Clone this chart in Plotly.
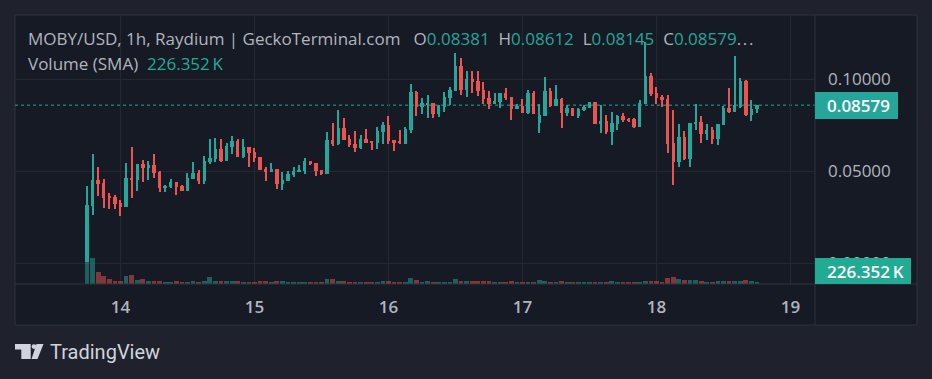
import plotly.graph_objects as go
import pandas as pd

# ---------------- data ----------------
times = pd.date_range("2024-05-13 18:00", periods=121, freq="h")

opens = [0.0005, 0.0310, 0.0451, 0.0435, 0.0359, 0.0357, 0.0324, 0.0306, 0.0462, 0.0451,
         0.0538, 0.0518, 0.0533, 0.0495, 0.0408, 0.0415, 0.0440, 0.0418, 0.0391, 0.0455,
         0.0489, 0.0446, 0.0549, 0.0565, 0.0620, 0.0554, 0.0630, 0.0663, 0.0576, 0.0630,
         0.0603, 0.0576, 0.0513, 0.0495, 0.0511, 0.0429, 0.0446, 0.0478, 0.0495, 0.0500,
         0.0554, 0.0543, 0.0505, 0.0484, 0.0668, 0.0647, 0.0734, 0.0674, 0.0647, 0.0625,
         0.0674, 0.0659, 0.0652, 0.0712, 0.0750, 0.0668, 0.0658, 0.0647, 0.0723, 0.0929,
         0.0848, 0.0864, 0.0870, 0.0811, 0.0850, 0.0898, 0.0935, 0.1071, 0.0940, 0.1000,
         0.0989, 0.0940, 0.0897, 0.0864, 0.0875, 0.0924, 0.0902, 0.0837, 0.0853, 0.0815,
         0.0924, 0.0761, 0.0799, 0.0935, 0.0853, 0.0891, 0.0815, 0.0842, 0.0799, 0.0832,
         0.0842, 0.0875, 0.0755, 0.0773, 0.0712, 0.0755, 0.0799, 0.0781, 0.0783, 0.0739,
         0.0864, 0.1016, 0.0924, 0.0902, 0.0891, 0.0652, 0.0549, 0.0685, 0.0565, 0.0755,
         0.0766, 0.0701, 0.0723, 0.0674, 0.0750, 0.0842, 0.0821, 0.0848, 0.0989, 0.0804,
         0.08381]
highs = [0.0418, 0.0592, 0.0522, 0.0455, 0.0379, 0.0370, 0.0342, 0.0543, 0.0630, 0.0538,
         0.0560, 0.0554, 0.0592, 0.0500, 0.0424, 0.0455, 0.0440, 0.0422, 0.0489, 0.0549,
         0.0505, 0.0582, 0.0674, 0.0679, 0.0674, 0.0652, 0.0690, 0.0674, 0.0674, 0.0630,
         0.0625, 0.0576, 0.0522, 0.0543, 0.0511, 0.0495, 0.0500, 0.0522, 0.0533, 0.0571,
         0.0554, 0.0543, 0.0505, 0.0712, 0.0761, 0.0832, 0.0788, 0.0696, 0.0717, 0.0696,
         0.0728, 0.0663, 0.0739, 0.0766, 0.0799, 0.0668, 0.0723, 0.0739, 0.0973, 0.0935,
         0.0897, 0.0913, 0.0871, 0.0859, 0.0929, 0.0958, 0.1140, 0.1114, 0.1043, 0.1043,
         0.1043, 0.0984, 0.0935, 0.0924, 0.0924, 0.0951, 0.0902, 0.0864, 0.0891, 0.0940,
         0.0935, 0.0864, 0.1011, 0.0951, 0.0967, 0.0897, 0.0859, 0.0842, 0.0842, 0.0859,
         0.0875, 0.0875, 0.0859, 0.0804, 0.0821, 0.0804, 0.0815, 0.0788, 0.0788, 0.0886,
         0.1201, 0.1033, 0.0957, 0.0913, 0.0913, 0.0832, 0.0755, 0.0717, 0.0761, 0.0864,
         0.0799, 0.0755, 0.0739, 0.0755, 0.0853, 0.0951, 0.1125, 0.1005, 0.0995, 0.0886,
         0.08612]
lows = [0.0005, 0.0261, 0.0364, 0.0299, 0.0295, 0.0295, 0.0257, 0.0306, 0.0355, 0.0393,
        0.0442, 0.0451, 0.0464, 0.0388, 0.0388, 0.0409, 0.0370, 0.0391, 0.0391, 0.0455,
        0.0431, 0.0431, 0.0538, 0.0549, 0.0549, 0.0554, 0.0592, 0.0576, 0.0571, 0.0522,
        0.0549, 0.0505, 0.0446, 0.0495, 0.0402, 0.0397, 0.0446, 0.0467, 0.0495, 0.0484,
        0.0533, 0.0473, 0.0478, 0.0484, 0.0636, 0.0641, 0.0668, 0.0630, 0.0603, 0.0620,
        0.0652, 0.0614, 0.0620, 0.0647, 0.0647, 0.0609, 0.0647, 0.0647, 0.0707, 0.0799,
        0.0810, 0.0788, 0.0790, 0.0795, 0.0822, 0.0859, 0.0935, 0.0911, 0.0904, 0.0924,
        0.0909, 0.0864, 0.0837, 0.0864, 0.0842, 0.0886, 0.0777, 0.0837, 0.0815, 0.0810,
        0.0810, 0.0707, 0.0799, 0.0848, 0.0853, 0.0734, 0.0799, 0.0799, 0.0788, 0.0826,
        0.0842, 0.0755, 0.0707, 0.0701, 0.0641, 0.0723, 0.0766, 0.0766, 0.0734, 0.0739,
        0.0864, 0.0908, 0.0864, 0.0848, 0.0598, 0.0424, 0.0522, 0.0560, 0.0522, 0.0723,
        0.0652, 0.0668, 0.0647, 0.0641, 0.0750, 0.0815, 0.0821, 0.0842, 0.0799, 0.0772,
        0.08145]
closes = [0.0315, 0.0451, 0.0431, 0.0355, 0.0355, 0.0322, 0.0306, 0.0460, 0.0451, 0.0538,
          0.0518, 0.0533, 0.0491, 0.0409, 0.0418, 0.0440, 0.0415, 0.0393, 0.0462, 0.0489,
          0.0447, 0.0554, 0.0571, 0.0620, 0.0554, 0.0636, 0.0663, 0.0576, 0.0630, 0.0598,
          0.0571, 0.0505, 0.0496, 0.0511, 0.0429, 0.0451, 0.0484, 0.0500, 0.0505, 0.0554,
          0.0538, 0.0500, 0.0484, 0.0668, 0.0647, 0.0734, 0.0668, 0.0641, 0.0625, 0.0674,
          0.0652, 0.0656, 0.0717, 0.0750, 0.0663, 0.0652, 0.0654, 0.0728, 0.0929, 0.0848,
          0.0870, 0.0870, 0.0810, 0.0853, 0.0902, 0.0940, 0.1071, 0.0940, 0.1000, 0.0984,
          0.0935, 0.0890, 0.0864, 0.0880, 0.0924, 0.0897, 0.0837, 0.0853, 0.0815, 0.0924,
          0.0810, 0.0804, 0.0935, 0.0853, 0.0891, 0.0815, 0.0842, 0.0799, 0.0837, 0.0848,
          0.0875, 0.0755, 0.0773, 0.0712, 0.0761, 0.0799, 0.0777, 0.0777, 0.0739, 0.0870,
          0.1016, 0.0918, 0.0897, 0.0886, 0.0647, 0.0549, 0.0685, 0.0565, 0.0761, 0.0766,
          0.0701, 0.0723, 0.0674, 0.0755, 0.0842, 0.0821, 0.0859, 0.0989, 0.0804, 0.0837,
          0.08579]
volumes_k = [1540, 1820, 860, 580, 370, 230, 230, 580, 650, 300,
             350, 230, 230, 230, 160, 160, 210, 160, 160, 230,
             160, 230, 510, 210, 210, 210, 210, 210, 160, 160,
             160, 230, 230, 160, 230, 210, 160, 160, 160, 160,
             160, 160, 160, 330, 330, 230, 230, 160, 160, 160,
             160, 160, 160, 230, 230, 160, 160, 160, 440, 300,
             160, 210, 160, 160, 160, 160, 330, 210, 210, 210,
             210, 230, 230, 160, 160, 160, 230, 160, 160, 160,
             160, 300, 230, 160, 160, 230, 160, 160, 160, 160,
             160, 160, 160, 160, 230, 160, 160, 160, 160, 160,
             230, 230, 230, 160, 400, 510, 370, 300, 300, 300,
             230, 160, 160, 230, 230, 230, 230, 230, 300, 230,
             160]

day_ticks = ["2024-05-14", "2024-05-15", "2024-05-16", "2024-05-17", "2024-05-18", "2024-05-19"]
day_labels = ["14", "15", "16", "17", "18", "19"]
price_ticks = [0.0, 0.05, 0.10]
price_tick_labels = ["0.00000", "0.05000", "0.10000"]
last_price = 0.08579
volume_sma_label = "226.352\u2009K"
symbol_title = "MOBY/USD, 1h, Raydium | GeckoTerminal.com"

# ---------------- style ----------------
UP = "#26a69a"
DOWN = "#ef5350"
UP_VOL = "rgba(38,166,154,0.5)"
DOWN_VOL = "rgba(239,83,80,0.5)"
OUTER_BG = "#1f222d"
PANEL_BG = "#161a25"
GRID = "#242833"
BORDER = "#2f333e"
TEXT = "#b2b5be"
FONT = "Open Sans"

W, H = 932, 379
PL, PR, PT, PB = 15, 815, 15, 284   # plot area in px


def px(x):
    return (x - PL) / (PR - PL)


def py(y):
    return (PB - y) / (PB - PT)


HOUR_MS = 3600 * 1000
up_flags = [c >= o for o, c in zip(opens, closes)]
body_colors = [UP if u else DOWN for u in up_flags]
vol_colors = [UP_VOL if u else DOWN_VOL for u in up_flags]
body_base = [min(o, c) for o, c in zip(opens, closes)]
body_len = [max(abs(c - o), 0.00055) for o, c in zip(opens, closes)]
wick_len = [h - l for h, l in zip(highs, lows)]

fig = go.Figure()
fig.add_trace(go.Bar(x=times, y=volumes_k, width=0.84 * HOUR_MS, marker=dict(color=vol_colors, line=dict(width=0)),
                     yaxis="y", hoverinfo="skip"))
fig.add_trace(go.Bar(x=times, y=wick_len, base=lows, width=0.19 * HOUR_MS,
                     marker=dict(color=body_colors, line=dict(width=0)), yaxis="y2", hoverinfo="skip"))
fig.add_trace(go.Bar(x=times, y=body_len, base=body_base, width=0.6 * HOUR_MS,
                     marker=dict(color=body_colors, line=dict(width=0)), yaxis="y2", hoverinfo="skip"))

shapes = []
# panel background + border
shapes.append(dict(type="rect", xref="paper", yref="paper", x0=px(15), x1=px(917), y0=py(325), y1=py(15),
                   fillcolor=PANEL_BG, line=dict(color=BORDER, width=1), layer="below"))
# separators
shapes.append(dict(type="line", xref="paper", yref="paper", x0=px(PR), x1=px(PR), y0=py(325), y1=py(15),
                   line=dict(color=BORDER, width=1), layer="above"))
shapes.append(dict(type="line", xref="paper", yref="paper", x0=px(15), x1=px(917), y0=py(PB), y1=py(PB),
                   line=dict(color=BORDER, width=1), layer="above"))
# last price dotted line
shapes.append(dict(type="line", xref="paper", yref="y2", x0=0, x1=1, y0=last_price, y1=last_price,
                   line=dict(color=UP, width=1, dash="dot"), layer="below"))
# price label box
shapes.append(dict(type="rect", xref="paper", yref="paper", x0=px(815), x1=px(898), y0=py(119), y1=py(92),
                   fillcolor=UP, line=dict(width=0), layer="above"))
# volume label box
shapes.append(dict(type="rect", xref="paper", yref="paper", x0=px(815), x1=px(911), y0=py(284), y1=py(258),
                   fillcolor="#22ab94", line=dict(width=0), layer="above"))


def path(points):
    return "M " + " L ".join(f"{px(a):.5f},{py(b):.5f}" for a, b in points) + " Z"


LOGO = "#d1d4dc"
shapes.append(dict(type="path", xref="paper", yref="paper",
                   path=path([(15, 344), (30.7, 344), (30.7, 359), (21.3, 359), (21.3, 349.5), (15, 349.5)]),
                   fillcolor=LOGO, line=dict(width=0)))
shapes.append(dict(type="circle", xref="paper", yref="paper", x0=px(31.6), x1=px(36.4), y0=py(349), y1=py(344.2),
                   fillcolor=LOGO, line=dict(width=0)))
shapes.append(dict(type="path", xref="paper", yref="paper",
                   path=path([(36.5, 344), (43.5, 344), (37.5, 359), (31.5, 359)]),
                   fillcolor=LOGO, line=dict(width=0)))

nb = "\u00a0"
hair = "\u200a"


def teal(s):
    return f"<span style='color:{UP}'>{s}</span>"


line1 = (symbol_title + nb * 3 + "O" + teal(f"{opens[-1]:.5f}") + nb * 2 + "H" + teal(f"{highs[-1]:.5f}")
         + nb * 2 + "L" + teal(f"{lows[-1]:.5f}") + nb * 2 + "C" + teal(f"{closes[-1]:.5f}")
         + "." + hair + "." + hair + ".")
line2 = "Volume (SMA)" + nb * 2 + f"<span style='color:#22ab94'>{volume_sma_label}</span>"

annotations = [
    dict(xref="paper", yref="paper", x=px(26), y=py(38), text=line1, showarrow=False, xanchor="left",
         yanchor="middle", font=dict(family=FONT, size=17, color=TEXT)),
    dict(xref="paper", yref="paper", x=px(26), y=py(63.5), text=line2, showarrow=False, xanchor="left",
         yanchor="middle", font=dict(family=FONT, size=17, color=TEXT)),
    dict(xref="paper", yref="paper", x=px(825), y=py(105.5), text=f"{last_price:.5f}", showarrow=False,
         xanchor="left", yanchor="middle", font=dict(family=FONT, size=17, color="#ffffff", weight=600)),
    dict(xref="paper", yref="paper", x=px(825), y=py(271), text=volume_sma_label, showarrow=False,
         xanchor="left", yanchor="middle", font=dict(family=FONT, size=17, color="#ffffff", weight=600)),
    dict(xref="paper", yref="paper", x=px(48), y=py(352), text="TradingView", showarrow=False,
         xanchor="left", yanchor="middle", font=dict(family="Roboto", size=20, color=LOGO)),
]

hour_px = 134.0 / 24.0
day14 = pd.Timestamp("2024-05-14")
x_left = day14 + pd.Timedelta(hours=(PL - 120.5) / hour_px)
x_right = day14 + pd.Timedelta(hours=(PR - 120.5) / hour_px)
y_bottom = (263 - PB) / 1840.0
y_top = (263 - PT) / 1840.0

fig.update_layout(
    width=W, height=H,
    margin=dict(l=PL, r=W - PR, t=PT, b=H - PB, pad=0),
    paper_bgcolor=OUTER_BG, plot_bgcolor=PANEL_BG,
    showlegend=False, barmode="overlay", bargap=0,
    font=dict(family=FONT, color=TEXT),
    xaxis=dict(type="date", range=[x_left, x_right], tickvals=day_ticks, ticktext=day_labels,
               showgrid=True, gridcolor=GRID, gridwidth=1, zeroline=False, showline=False,
               ticks="", ticklabelstandoff=11,
               tickfont=dict(family=FONT, size=17, color=TEXT, weight=600), fixedrange=True),
    yaxis=dict(range=[0, (PB - PT) * 70], visible=False, fixedrange=True),
    yaxis2=dict(overlaying="y", side="right", range=[y_bottom, y_top], tickvals=price_ticks,
                ticktext=price_tick_labels, showgrid=True, gridcolor=GRID, gridwidth=1, zeroline=False,
                showline=False, ticks="", ticklabelstandoff=12,
                tickfont=dict(family=FONT, size=17, color=TEXT), fixedrange=True),
    shapes=shapes, annotations=annotations,
)

fig.write_html("out.html", config={"displayModeBar": False},
               post_script="document.body.style.margin='0';document.body.style.overflow='hidden';")
